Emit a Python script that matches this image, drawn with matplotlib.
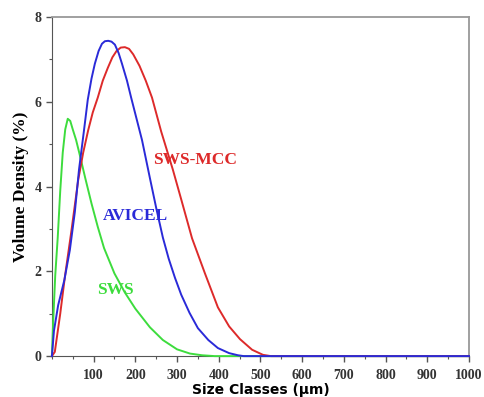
import matplotlib
matplotlib.use("Agg")
import matplotlib.pyplot as plt
from matplotlib.ticker import MultipleLocator

# values
sws_x = [0, 3, 8, 14, 20, 26, 32, 38, 44, 50, 58, 68, 80, 95, 110, 125, 150, 175, 200, 235,
         266, 300, 331, 360, 390, 1000]
sws_y = [0, 0.8, 1.9, 2.8, 3.9, 4.8, 5.35, 5.6, 5.55, 5.35, 5.1, 4.7, 4.2, 3.6, 3.05, 2.55,
         1.95, 1.5, 1.12, 0.68, 0.38, 0.16, 0.06, 0.02, 0, 0]

avicel_x = [0, 5, 15, 30, 43, 55, 65, 77, 86, 95, 103, 112, 120, 127, 135, 143, 151, 160, 168,
            180, 190, 203, 216, 235, 250, 266, 280, 295, 310, 330, 350, 375, 398, 425, 446, 460, 1000]
avicel_y = [0, 0.6, 1.2, 1.8, 2.5, 3.4, 4.4, 5.33, 6.05, 6.55, 6.9, 7.2, 7.37, 7.43, 7.44, 7.42,
            7.35, 7.15, 6.9, 6.5, 6.1, 5.6, 5.1, 4.2, 3.5, 2.8, 2.3, 1.85, 1.45, 1.02, 0.66, 0.38,
            0.19, 0.07, 0.02, 0, 0]

mcc_x = [0, 7, 20, 31, 47, 63, 75, 87, 98, 110, 122, 134, 145, 155, 165, 175, 185, 195, 210,
         225, 240, 262, 290, 310, 336, 367, 398, 425, 451, 480, 506, 525, 1000]
mcc_y = [0, 0.1, 1.0, 1.86, 2.97, 4.15, 4.8, 5.33, 5.75, 6.1, 6.5, 6.8, 7.05, 7.2, 7.28, 7.29,
         7.25, 7.12, 6.85, 6.5, 6.1, 5.3, 4.4, 3.7, 2.78, 1.95, 1.15, 0.7, 0.4, 0.15, 0.03, 0, 0]

x_ticks = [100, 200, 300, 400, 500, 600, 700, 800, 900, 1000]
y_ticks = [0, 2, 4, 6, 8]

green = "#3ddc3d"
blue = "#2a2ad8"
red = "#dd2a2a"

fig, ax = plt.subplots(figsize=(4.85, 3.97), dpi=100)
fig.subplots_adjust(left=0.107, right=0.967, top=0.957, bottom=0.103)

ax.plot(sws_x, sws_y, color=green, lw=1.4, clip_on=False, zorder=3)
ax.plot(mcc_x, mcc_y, color=red, lw=1.4, clip_on=False, zorder=3)
ax.plot(avicel_x, avicel_y, color=blue, lw=1.4, clip_on=False, zorder=3)

ax.set_xlim(0, 1000)
ax.set_ylim(0, 8)
ax.set_xticks(x_ticks)
ax.set_yticks(y_ticks)
ax.xaxis.set_minor_locator(MultipleLocator(50))
ax.yaxis.set_minor_locator(MultipleLocator(1))
ax.tick_params(which="major", direction="out", length=4, width=1, colors="#555555")
ax.tick_params(which="minor", direction="out", length=2.5, width=0.8, colors="#555555")
ax.tick_params(axis="x", pad=5)
for lab in ax.get_xticklabels() + ax.get_yticklabels():
    lab.set_fontfamily("Liberation Serif")
    lab.set_fontweight("bold")
    lab.set_fontsize(10)
    lab.set_color("#333333")

for side in ["top", "right"]:
    ax.spines[side].set_color("#999999")
    ax.spines[side].set_linewidth(1.3)
ax.spines["left"].set_color("#555555")
ax.spines["bottom"].set_color("#555555")

ax.set_xlabel("Size Classes (μm)", fontfamily="DejaVu Sans", fontweight="bold",
              fontsize=10, labelpad=1)
ax.set_ylabel("Volume Density (%)", fontfamily="Liberation Serif", fontweight="bold",
              fontsize=12.5, labelpad=4)

lbl = dict(fontfamily="Liberation Serif", fontweight="bold", fontsize=12.5, ha="center", va="center")
ax.text(343, 4.62, "SWS-MCC", color=red, **lbl)
ax.text(199, 3.3, "AVICEL", color=blue, **lbl)
ax.text(151, 1.56, "SWS", color=green, **lbl)

fig.savefig("out.png", dpi=100)
